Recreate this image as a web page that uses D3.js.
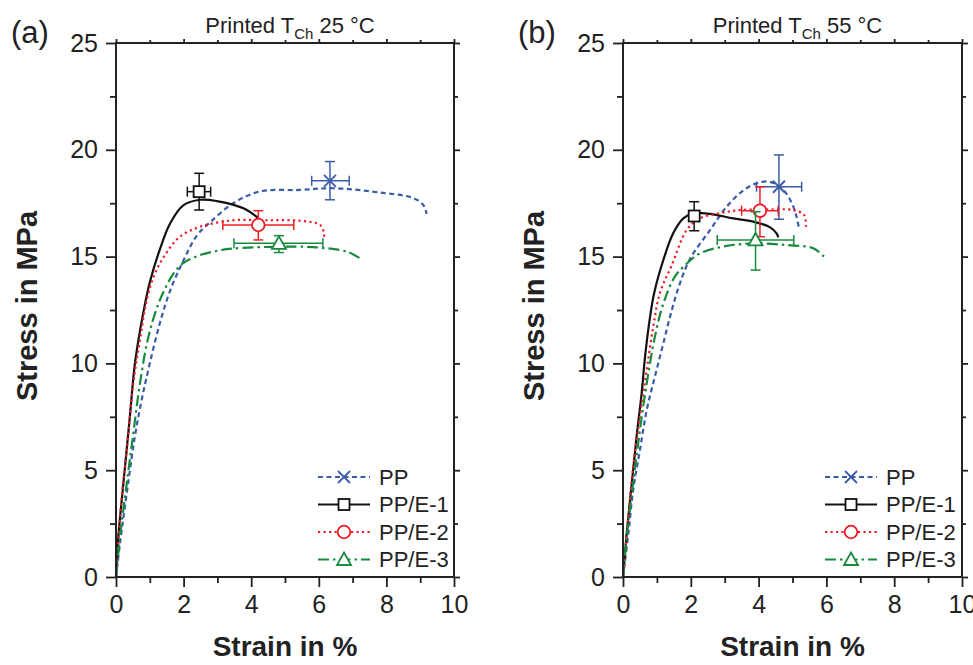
<!DOCTYPE html>
<html lang="en">
<head>
<meta charset="UTF-8">
<title>Stress-strain curves</title>
<script src="https://d3js.org/d3.v7.min.js"></script>
<style>
  body { margin: 0; background: #fff; }
  svg { font-family: Arial, "Liberation Sans", sans-serif; }
</style>
</head>
<body>
<svg id="chart" width="973" height="665"></svg>
<script>
// ---- data ----
const strainTicks = [0, 2, 4, 6, 8, 10];
const stressTicks = [0, 5, 10, 15, 20, 25];
const seriesNames = ["PP", "PP/E-1", "PP/E-2", "PP/E-3"];
const panelTitles = ["25 °C", "55 °C"];
const panelLetters = ["(a)", "(b)"];

// panel (a) curves, [strain %, stress MPa]
const ppCurve25 = [[0,0],[0.12,1.6],[0.36,4.4],[0.56,6.6],[0.76,8.3],[1.0,10],[1.3,11.9],[1.6,13.4],[1.99,14.8],[2.4,16.0],[2.78,16.6],[3.47,17.5],[4.26,18.05],[5.44,18.12],[6.43,18.2],[7.9,17.98],[8.8,17.74],[9.1,17.4],[9.19,17.0]];
const e1Curve25 = [[0,0],[0.07,1.9],[0.22,4.4],[0.41,7.5],[0.56,10],[0.81,12.4],[1.0,13.8],[1.3,15.35],[1.6,16.55],[1.99,17.4],[2.49,17.66],[2.98,17.6],[3.77,17.26],[4.21,16.8]];
const e2Curve25 = [[0,0],[0.17,3.76],[0.32,5.95],[0.51,9.07],[0.71,11.1],[0.91,12.97],[1.15,14.2],[1.5,15.2],[1.89,15.93],[2.49,16.4],[3.47,16.7],[4.46,16.7],[5.44,16.68],[6.04,16.48],[6.15,16.1],[6.15,15.78]];
const e3Curve25 = [[0,0],[0.12,1.9],[0.32,4.4],[0.51,6.7],[0.71,9.07],[0.96,11.25],[1.3,12.97],[1.7,14.2],[1.99,14.7],[2.49,15.07],[3.08,15.3],[3.47,15.38],[4.75,15.46],[5.94,15.43],[6.83,15.23],[7.22,14.92]];

// panel (b) curves
const ppCurve55 = [[0,0],[0.16,2.05],[0.3,4.07],[0.5,5.95],[0.7,7.82],[0.94,9.38],[1.19,10.94],[1.44,12.5],[1.68,13.75],[1.98,14.9],[2.57,16.25],[3.06,17.34],[3.55,18.1],[3.94,18.43],[4.34,18.5],[4.73,18.12],[4.98,17.5],[5.12,16.87],[5.19,16.32]];
const e1Curve55 = [[0,0],[0.11,2.05],[0.26,4.4],[0.4,6.57],[0.55,8.6],[0.65,10.3],[0.8,12.2],[0.92,13.3],[1.19,14.84],[1.48,16.09],[1.78,16.79],[2.07,17.03],[2.57,17.0],[3.25,16.79],[3.84,16.64],[4.34,16.37],[4.53,16.09],[4.58,15.9]];
const e2Curve55 = [[0,0],[0.16,2.82],[0.3,5.16],[0.5,7.5],[0.7,9.7],[0.89,11.7],[1.09,13.3],[1.44,14.6],[1.88,16.25],[2.27,16.79],[2.86,17.03],[3.45,17.18],[4.24,17.2],[5.02,17.18],[5.34,16.95],[5.4,16.4]];
const e3Curve55 = [[0,0],[0.11,1.9],[0.3,4.4],[0.5,6.88],[0.7,9.07],[0.94,11.25],[1.19,12.8],[1.53,14.06],[1.9,14.7],[2.27,15.15],[3.06,15.5],[3.94,15.62],[4.83,15.54],[5.61,15.39],[5.93,15.0]];

// break points with error bars (mean, low, high), order = seriesNames
const breakStrain25 = [6.33, 2.46, 4.21, 4.82];
const breakStrainLo25 = [5.79, 2.11, 3.16, 3.49];
const breakStrainHi25 = [6.9, 2.8, 5.26, 6.12];
const breakStress25 = [18.55, 18.04, 16.48, 15.62];
const breakStressLo25 = [17.66, 17.18, 15.78, 15.19];
const breakStressHi25 = [19.45, 18.9, 17.15, 15.98];

const breakStrain55 = [4.6, 2.1, 4.04, 3.91];
const breakStrainLo55 = [3.94, 2.0, 3.5, 2.78];
const breakStrainHi55 = [5.27, 2.2, 4.58, 5.04];
const breakStress55 = [18.27, 16.9, 17.15, 15.78];
const breakStressLo55 = [16.75, 16.21, 15.93, 14.37];
const breakStressHi55 = [19.76, 17.57, 18.27, 17.1];

// ---- styles ----
const colors = ["#3b5ba9", "#111111", "#ee1c25", "#178a3e"];
const dashes = ["5,3.5", null, "2.2,3.3", "11,4,2.5,4"];
const markerTypes = ["cross", "square", "circle", "triangle"];

const svg = d3.select("#chart");

const panels = [
  { left: 116, right: 454, curves: [ppCurve25, e1Curve25, e2Curve25, e3Curve25],
    bx: breakStrain25, bxLo: breakStrainLo25, bxHi: breakStrainHi25,
    by: breakStress25, byLo: breakStressLo25, byHi: breakStressHi25, labelX: 27 },
  { left: 623, right: 962, curves: [ppCurve55, e1Curve55, e2Curve55, e3Curve55],
    bx: breakStrain55, bxLo: breakStrainLo55, bxHi: breakStrainHi55,
    by: breakStress55, byLo: breakStressLo55, byHi: breakStressHi55, labelX: 534 }
];
const plotTop = 43, plotBottom = 577;

function drawMarker(g, type, cx, cy, color) {
  const s = 6;
  if (type === "cross") {
    g.append("path").attr("d", `M${cx-s},${cy-s}L${cx+s},${cy+s}M${cx-s},${cy+s}L${cx+s},${cy-s}`)
      .attr("stroke", color).attr("stroke-width", 1.8).attr("fill", "none");
  } else if (type === "square") {
    g.append("rect").attr("x", cx - 5.5).attr("y", cy - 5.5).attr("width", 11).attr("height", 11)
      .attr("fill", "#fff").attr("stroke", color).attr("stroke-width", 1.8);
  } else if (type === "circle") {
    g.append("circle").attr("cx", cx).attr("cy", cy).attr("r", 6.3)
      .attr("fill", "#fff").attr("stroke", color).attr("stroke-width", 1.8);
  } else {
    g.append("path").attr("d", `M${cx},${cy-7}L${cx+7},${cy+5.5}L${cx-7},${cy+5.5}Z`)
      .attr("fill", "#fff").attr("stroke", color).attr("stroke-width", 1.8);
  }
}

panels.forEach((p, pi) => {
  const x = d3.scaleLinear().domain([0, 10]).range([p.left, p.right]);
  const y = d3.scaleLinear().domain([0, 25]).range([plotBottom, plotTop]);
  const g = svg.append("g");

  // curves
  const line = d3.line().x(d => x(d[0])).y(d => y(d[1])).curve(d3.curveCatmullRom.alpha(0.5));
  p.curves.forEach((c, i) => {
    g.append("path").datum(c).attr("d", line)
      .attr("fill", "none").attr("stroke", colors[i]).attr("stroke-width", 2.2)
      .attr("stroke-dasharray", dashes[i]).attr("stroke-linejoin", "round");
  });

  // error bars + markers
  seriesNames.forEach((name, i) => {
    const col = colors[i], cap = 5;
    const eb = g.append("g").attr("stroke", col).attr("stroke-width", 1.5).attr("fill", "none");
    const cx = x(p.bx[i]), cy = y(p.by[i]);
    eb.append("line").attr("x1", cx).attr("x2", cx).attr("y1", y(p.byLo[i])).attr("y2", y(p.byHi[i]));
    eb.append("line").attr("x1", cx - cap).attr("x2", cx + cap).attr("y1", y(p.byLo[i])).attr("y2", y(p.byLo[i]));
    eb.append("line").attr("x1", cx - cap).attr("x2", cx + cap).attr("y1", y(p.byHi[i])).attr("y2", y(p.byHi[i]));
    eb.append("line").attr("x1", x(p.bxLo[i])).attr("x2", x(p.bxHi[i])).attr("y1", cy).attr("y2", cy);
    eb.append("line").attr("x1", x(p.bxLo[i])).attr("x2", x(p.bxLo[i])).attr("y1", cy - cap).attr("y2", cy + cap);
    eb.append("line").attr("x1", x(p.bxHi[i])).attr("x2", x(p.bxHi[i])).attr("y1", cy - cap).attr("y2", cy + cap);
    drawMarker(g, markerTypes[i], cx, cy, col);
  });

  // axes: bottom/left with labels, top/right mirrored without labels
  const minorX = d3.range(1, 10, 2), minorY = d3.range(2.5, 25, 5);
  g.append("g").attr("transform", `translate(0,${plotBottom})`)
    .call(d3.axisBottom(x).tickValues(strainTicks).tickSize(10).tickPadding(8).tickFormat(d3.format("d")));
  g.append("g").attr("transform", `translate(0,${plotBottom})`)
    .call(d3.axisBottom(x).tickValues(minorX).tickSize(6).tickFormat(""));
  g.append("g").attr("transform", `translate(${p.left},0)`)
    .call(d3.axisLeft(y).tickValues(stressTicks).tickSize(10).tickPadding(8).tickFormat(d3.format("d")));
  g.append("g").attr("transform", `translate(${p.left},0)`)
    .call(d3.axisLeft(y).tickValues(minorY).tickSize(6).tickFormat(""));
  g.append("g").attr("transform", `translate(0,${plotTop})`)
    .call(d3.axisTop(x).tickValues(strainTicks).tickSize(4).tickFormat(""));
  g.append("g").attr("transform", `translate(0,${plotTop})`)
    .call(d3.axisTop(x).tickValues(minorX).tickSize(3).tickFormat(""));
  g.append("g").attr("transform", `translate(${p.right},0)`)
    .call(d3.axisRight(y).tickValues(stressTicks).tickSize(6).tickFormat(""));
  g.append("g").attr("transform", `translate(${p.right},0)`)
    .call(d3.axisRight(y).tickValues(minorY).tickSize(4).tickFormat(""));
  g.selectAll(".domain").remove();
  g.selectAll(".tick line").attr("stroke", "#222").attr("stroke-width", 1.8);
  g.selectAll(".tick text").attr("font-size", 25).attr("fill", "#222")
    .attr("font-family", "Arial, 'Liberation Sans', sans-serif");

  g.append("rect").attr("x", p.left).attr("y", plotTop).attr("width", p.right - p.left).attr("height", plotBottom - plotTop)
    .attr("fill", "none").attr("stroke", "#222").attr("stroke-width", 2);

  // axis titles
  g.append("text").attr("x", (p.left + p.right) / 2).attr("y", 656).attr("text-anchor", "middle")
    .attr("font-size", 28).attr("font-weight", "bold").attr("fill", "#222").text("Strain in %");
  g.append("text").attr("transform", `translate(${p.labelX},306) rotate(-90)`)
    .attr("text-anchor", "middle").attr("dy", "0.36em")
    .attr("font-size", 29).attr("font-weight", "bold").attr("fill", "#222").text("Stress in MPa");

  // panel letter and title
  g.append("text").attr("x", p.left - 105).attr("y", 43).attr("font-size", 31).attr("fill", "#222")
    .text(panelLetters[pi]);
  const t = g.append("text").attr("x", (p.left + p.right) / 2 + 5).attr("y", 33).attr("text-anchor", "middle")
    .attr("font-size", 22).attr("fill", "#222");
  t.append("tspan").text("Printed T");
  t.append("tspan").attr("font-size", 15).attr("dy", 6).text("Ch");
  t.append("tspan").attr("dy", -6).text(" " + panelTitles[pi]);

  // legend
  const lx = p.left + 202;
  seriesNames.forEach((name, i) => {
    const ly = 477 + i * 27.5;
    const lg = g.append("g");
    lg.append("line").attr("x1", lx).attr("x2", lx + 52).attr("y1", ly).attr("y2", ly)
      .attr("stroke", colors[i]).attr("stroke-width", 2).attr("stroke-dasharray", dashes[i]);
    drawMarker(lg, markerTypes[i], lx + 26, ly, colors[i]);
    lg.append("text").attr("x", lx + 61).attr("y", ly).attr("dy", "0.36em")
      .attr("font-size", 22).attr("fill", "#222").text(name);
  });
});
</script>
</body>
</html>
